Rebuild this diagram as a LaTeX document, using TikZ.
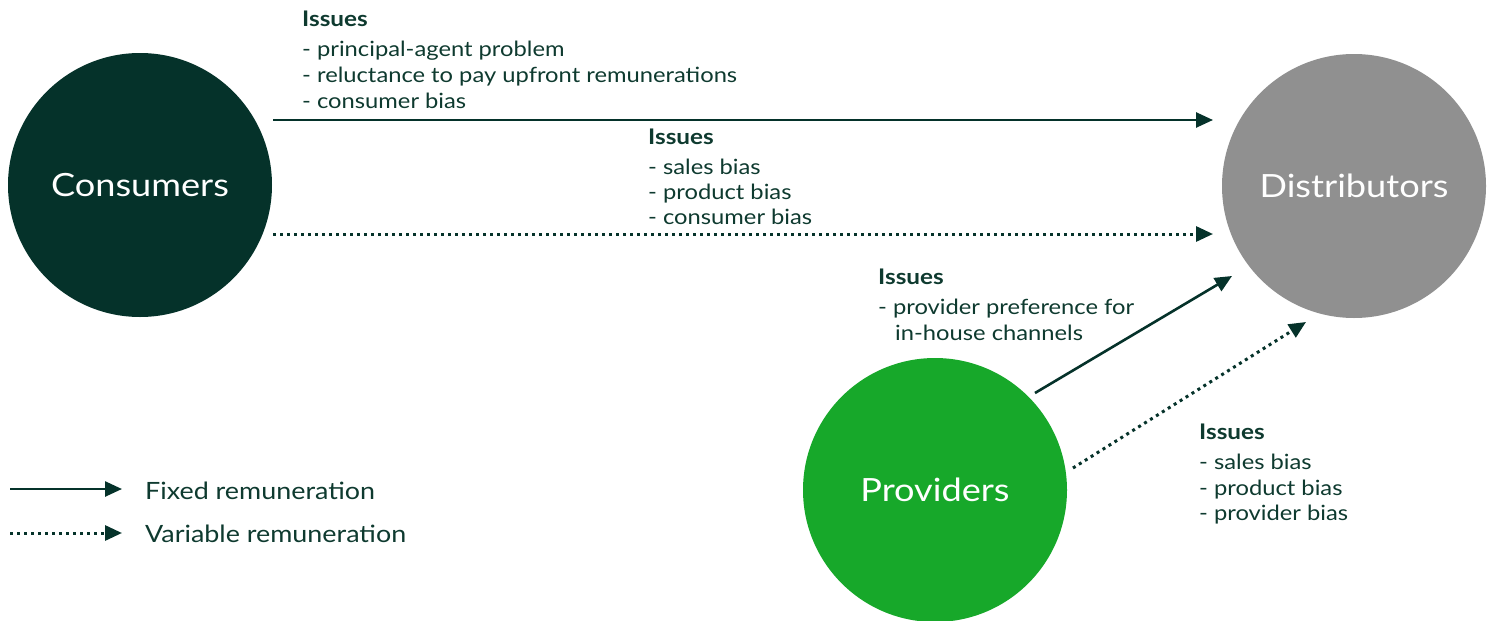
\documentclass[tikz,border=0pt]{standalone}
\usepackage{fontspec}
\setmainfont{Lato}[FakeStretch=1.13]
\usetikzlibrary{arrows.meta}
\definecolor{dkgreen}{HTML}{05322A}
\definecolor{txtgreen}{HTML}{0E3A2F}
\definecolor{midgrey}{HTML}{909090}
\definecolor{brgreen}{HTML}{17A82A}
\tikzset{
  circ/.style={circle, minimum size=264pt, inner sep=0pt, text=white, font=\fontsize{32}{36}\selectfont, text depth=0pt},
  fixedarr/.style={draw=dkgreen, line width=2.6pt, -{Triangle[length=17pt,width=15pt]}},
  vararr/.style={draw=dkgreen, line width=3pt, dash pattern=on 3pt off 4pt, -{Triangle[length=17pt,width=15pt]}},
  hd/.style={anchor=base west, inner sep=0pt, text=txtgreen, font=\bfseries\fontsize{21.5}{24}\selectfont},
  ln/.style={anchor=base west, inner sep=0pt, text=txtgreen, font=\fontsize{21}{24}\selectfont},
  lg/.style={anchor=base west, inner sep=0pt, text=txtgreen, font=\fontsize{23.8}{26}\selectfont},
}
\begin{document}
\begin{tikzpicture}[x=1pt,y=-1pt]
\useasboundingbox (0,0) rectangle (1489,621);
\node[circ, fill=dkgreen] (cons) at (140,185) {Consumers};
\node[circ, fill=midgrey] (dist) at (1354,186) {Distributors};
\node[circ, fill=brgreen] (prov) at (935,490) {Providers};
% connector ends
\coordinate (c1) at (273,120);
\coordinate (d1) at (1213,120);
\coordinate (c2) at (273,234);
\coordinate (d2) at (1213,234);
\coordinate (p1) at (1035,393);
\coordinate (d3) at (1232,276);
\coordinate (p2) at (1073,468);
\coordinate (d4) at (1306,322);
\draw[fixedarr] (c1) -- (d1);
\draw[vararr] (c2) -- (d2);
\draw[fixedarr] (p1) -- (d3);
\draw[vararr] (p2) -- (d4);
% issue blocks
\node[hd] (h1) at (302,26) {Issues};
\node[ln] (a1) at (302,56) {- principal-agent problem};
\node[ln] (a2) at (302,82) {- reluctance to pay upfront remunerations};
\node[ln] (a3) at (302,108) {- consumer bias};
\node[hd] (h2) at (648,144) {Issues};
\node[ln] (b1) at (648,174) {- sales bias};
\node[ln] (b2) at (648,199) {- product bias};
\node[ln] (b3) at (648,224) {- consumer bias};
\node[hd] (h3) at (878,284) {Issues};
\node[ln] (e1) at (878,314) {- provider preference for};
\node[ln] (e2) at (895,340) {in-house channels};
\node[hd] (h4) at (1199,439) {Issues};
\node[ln] (f1) at (1199,469) {- sales bias};
\node[ln] (f2) at (1199,495) {- product bias};
\node[ln] (f3) at (1199,520) {- provider bias};
% legend
\coordinate (l1s) at (10,489);
\coordinate (l1e) at (122,489);
\coordinate (l2s) at (10,533);
\coordinate (l2e) at (122,533);
\draw[fixedarr] (l1s) -- (l1e);
\draw[vararr] (l2s) -- (l2e);
\node[lg] (lt1) at (145,499) {Fixed remuneration};
\node[lg] (lt2) at (145,542) {Variable remuneration};
\end{tikzpicture}
\end{document}
